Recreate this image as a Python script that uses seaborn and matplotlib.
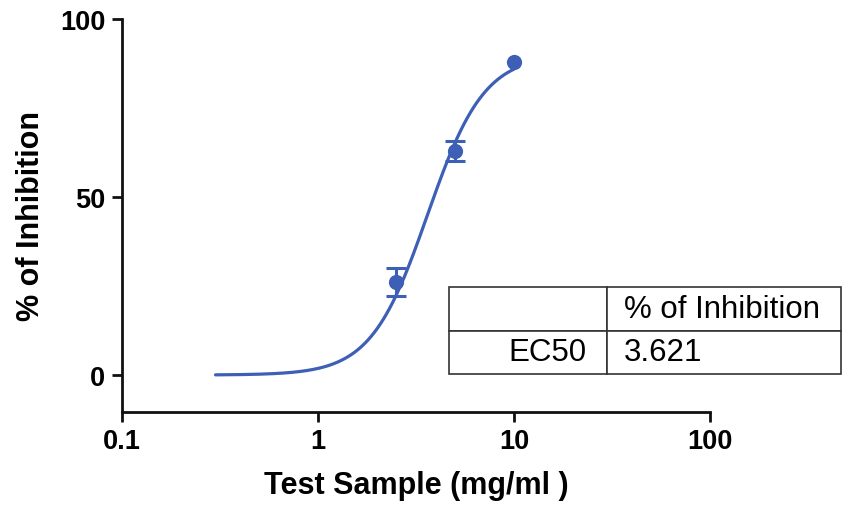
import numpy as np
import pandas as pd
import matplotlib
matplotlib.use('Agg')
import matplotlib.pyplot as plt
import seaborn as sns

conc = [2.5, 5.0, 10.0]
inhibition = [26.2, 63.0, 88.0]
err = [3.9, 2.8, np.nan]   # no visible bar on the last point

# fitted dose-response curve parameters
ec50 = 3.621
top = 90.0
bottom = 0.0
hill = 3.0
curve_range = (0.3, 10.0)

x_ticks = [0.1, 1, 10, 100]
x_ticklabels = ['0.1', '1', '10', '100']
y_ticks = [0, 50, 100]

table_rows = [['', '% of Inhibition'], ['EC50', '3.621']]

blue = '#3d5fb6'

sns.set_style('ticks')
plt.rcParams['font.family'] = ['Liberation Sans', 'DejaVu Sans']
plt.rcParams['text.color'] = 'black'
plt.rcParams['xtick.color'] = 'black'
plt.rcParams['ytick.color'] = 'black'
plt.rcParams['axes.labelcolor'] = 'black'

fig = plt.figure(figsize=(8.42, 5.06), dpi=100)
ax = fig.add_axes([0.1449, 0.1844, 0.6983, 0.7761])

# fit curve
xs = np.logspace(np.log10(curve_range[0]), np.log10(curve_range[1]), 200)
ys = bottom + (top - bottom) / (1 + (ec50 / xs) ** hill)
curve = pd.DataFrame({'x': xs, 'y': ys})
sns.lineplot(data=curve, x='x', y='y', ax=ax, color=blue, linewidth=2.3)

# data points + error bars
pts = pd.DataFrame({'conc': conc, 'inh': inhibition, 'err': err})
bars = pts.dropna()
ax.errorbar(bars['conc'], bars['inh'], yerr=bars['err'], fmt='none',
            ecolor=blue, elinewidth=2.2, capsize=7, capthick=2.2, zorder=3)
sns.scatterplot(data=pts, x='conc', y='inh', ax=ax, color=blue, s=120,
                edgecolor=blue, linewidth=0, zorder=4)

ax.set_xscale('log')
ax.set_xlim(0.1, 100)
ax.set_ylim(-10.3, 100)
ax.set_xticks(x_ticks)
ax.set_xticklabels(x_ticklabels)
ax.xaxis.set_minor_locator(matplotlib.ticker.NullLocator())
ax.set_yticks(y_ticks)

for s in ['top', 'right']:
    ax.spines[s].set_visible(False)
for s in ['left', 'bottom']:
    ax.spines[s].set_linewidth(2.0)
    ax.spines[s].set_color('#111111')
ax.tick_params(axis='both', length=7, width=2.0, color='#111111',
               labelsize=19.5, pad=5)
for lab in ax.get_xticklabels() + ax.get_yticklabels():
    lab.set_fontweight('bold')

ax.set_xlabel('Test Sample (mg/ml )', fontsize=22, fontweight='bold', labelpad=11)
ax.set_ylabel('% of Inhibition', fontsize=22, fontweight='bold', labelpad=10)

# EC50 table (extends past the axes on the right like the original)
tbl = ax.table(cellText=table_rows, colWidths=[0.404, 0.596],
               bbox=[0.5566, 0.096, 0.666, 0.2208], cellLoc='left')
tbl.auto_set_font_size(False)
tbl.set_fontsize(22.5)
for (r, c), cell in tbl.get_celld().items():
    cell.set_edgecolor('#333333')
    cell.set_linewidth(1.2)
    cell.set_facecolor('white')
    if c == 0:
        cell.PAD = 0.13
        cell.get_text().set_ha('right')
        cell._loc = 'right'
    else:
        cell.PAD = 0.07
tbl.set_clip_on(False)
tbl.set_zorder(5)

plt.savefig('out.png', dpi=100)
plt.close()
